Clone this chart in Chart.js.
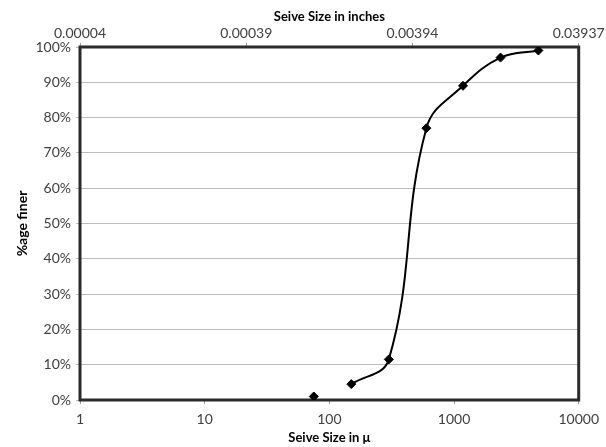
<!DOCTYPE html>
<html>
<head>
<meta charset="utf-8">
<script src="https://cdn.jsdelivr.net/npm/chart.js@4/dist/chart.umd.min.js"></script>
<style>
  html, body { margin: 0; padding: 0; background: #fff; }
  #wrap { width: 606px; height: 447px; }
</style>
</head>
<body>
<div id="wrap"><canvas id="sieve-chart" width="606" height="447"></canvas></div>
<script>
"use strict";

// data -----------------------------------
const sieveMicrons = [75, 150, 300, 600, 1180, 2360, 4750];
const percentFiner = [1, 4.5, 11.5, 77, 89, 97, 99];
const bottomTicks = [1, 10, 100, 1000, 10000];
const topTickLabels = ["0.00004", "0.00039", "0.00394", "0.03937"];

const FONT = "Lato, 'Open Sans', sans-serif";

const points = sieveMicrons.map(function (s, i) {
  return { x: s, y: percentFiner[i] };
});

// frame around the plot area
const frame = {
  id: "frame",
  beforeDatasetsDraw(chart) {
    const { ctx, chartArea: a } = chart;
    ctx.save();
    ctx.strokeStyle = "#2b2b2b";
    ctx.lineWidth = 3;
    ctx.strokeRect(a.left, a.top, a.right - a.left, a.bottom - a.top);
    ctx.restore();
  },
};

const ctx = document.getElementById("sieve-chart");

new Chart(ctx, {
  type: "line",
  data: {
    datasets: [
      {
        // smooth curve (the 75 micron point is not joined)
        data: points.slice(1),
        borderColor: "#000",
        borderWidth: 2,
        tension: 0.4,
        pointRadius: 0,
        fill: false,
      },
      {
        data: points,
        showLine: false,
        pointStyle: "rectRot",
        pointRadius: 4.5,
        backgroundColor: "#000",
        borderColor: "#000",
      },
    ],
  },
  options: {
    responsive: false,
    animation: false,
    layout: { padding: { left: 0, right: 26, top: 0, bottom: 0 } },
    plugins: {
      legend: { display: false },
      tooltip: { enabled: false },
    },
    scales: {
      x: {
        type: "logarithmic",
        position: "bottom",
        min: 1,
        max: 10000,
        afterBuildTicks: function (scale) {
          scale.ticks = bottomTicks.map((v) => ({ value: v }));
        },
        afterFit: function (scale) {
          scale.height = 47;
        },
        ticks: {
          color: "#404040",
          font: { family: FONT, size: 14 },
          padding: 7,
          maxRotation: 0,
          callback: function (value) {
            return String(value);
          },
        },
        grid: {
          drawOnChartArea: false,
          drawTicks: true,
          tickLength: 4,
          color: "#999",
        },
        border: { display: false },
        title: {
          display: true,
          text: "Seive Size in μ",
          color: "#000",
          font: { family: FONT, size: 13, weight: "bold" },
          padding: { top: 0, bottom: 1 },
        },
      },
      x2: {
        type: "linear",
        position: "top",
        min: 0,
        max: 3,
        afterBuildTicks: function (scale) {
          scale.ticks = topTickLabels.map((v, i) => ({ value: i }));
        },
        afterFit: function (scale) {
          scale.height = 47;
        },
        ticks: {
          color: "#404040",
          font: { family: FONT, size: 14 },
          padding: 1,
          maxRotation: 0,
          callback: function (value, index) {
            return topTickLabels[index];
          },
        },
        grid: {
          drawOnChartArea: false,
          drawTicks: true,
          tickLength: 4,
          color: "#999",
        },
        border: { display: false },
        title: {
          display: true,
          text: "Seive Size in inches",
          color: "#000",
          font: { family: FONT, size: 13, weight: "bold" },
          padding: { top: 9, bottom: 0 },
        },
      },
      y: {
        min: 0,
        max: 100,
        afterFit: function (scale) {
          scale.width = 80;
        },
        ticks: {
          stepSize: 10,
          color: "#404040",
          font: { family: FONT, size: 14 },
          padding: 5,
          callback: function (value) {
            return value + "%";
          },
        },
        grid: {
          color: "#bdbdbd",
          lineWidth: 1,
          drawTicks: true,
          tickLength: 4,
        },
        border: { display: false },
        title: {
          display: true,
          text: "%age finer",
          color: "#000",
          font: { family: FONT, size: 14, weight: "bold" },
          padding: { top: 14, bottom: 0 },
        },
      },
    },
  },
  plugins: [frame],
});
</script>
</body>
</html>
